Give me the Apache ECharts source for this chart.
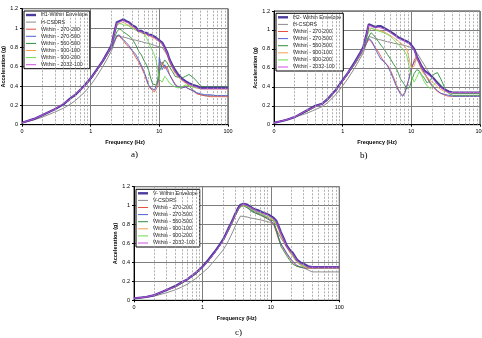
<!DOCTYPE html>
<html><head><meta charset="utf-8">
<script src="https://cdn.jsdelivr.net/npm/echarts@6/dist/echarts.min.js"></script>
<style>html,body{margin:0;padding:0;background:#fff}#c{width:482px;height:338px}</style>
</head><body><div id="c"></div>
<script>
// Frequencies (Hz) shared by all curves
const freq = [0.1, 0.15, 0.2, 0.3, 0.4, 0.5, 0.6, 0.8, 1, 1.2,
  1.5, 1.8, 2, 2.2, 2.4, 2.6, 2.8, 3, 3.3, 3.6,
  4, 4.5, 5, 5.5, 6, 6.5, 7, 7.5, 8, 8.5,
  9, 9.5, 10, 11, 12, 13, 14, 15.5, 17, 19,
  21, 24, 27, 31, 35, 40, 46, 55, 70, 100];
const minorFreqs = [0.2,0.3,0.4,0.5,0.6,0.7,0.8,0.9,2,3,4,5,6,7,8,9,20,30,40,50,60,70,80,90];

// ---- Panel a) H1 ----
const aEnv = [0.02,0.06,0.10,0.16,0.21,0.27,0.31,0.40,0.48,0.56, 0.66,0.76,0.82,0.95,1.06,1.07,1.08,1.09,1.07,1.06, 1.03,1.01,0.97,0.97,0.95,0.95,0.93,0.93,0.91,0.91, 0.895,0.885,0.87,0.85,0.80,0.75,0.68,0.61,0.56,0.51, 0.48,0.45,0.43,0.41,0.40,0.38,0.38,0.38,0.38,0.38];
const aCsd = [0.02,0.05,0.08,0.13,0.17,0.21,0.25,0.33,0.41,0.49, 0.60,0.70,0.76,0.84,0.92,0.92,0.91,0.905,0.90,0.89, 0.88,0.875,0.865,0.86,0.85,0.845,0.84,0.835,0.83,0.82, 0.815,0.81,0.805,0.80,0.76,0.72,0.68,0.63,0.58,0.53, 0.49,0.44,0.40,0.36,0.33,0.31,0.30,0.30,0.30,0.30];
const aR = [0.02,0.06,0.10,0.16,0.21,0.26,0.31,0.39,0.47,0.55, 0.65,0.74,0.79,0.86,0.91,0.92,0.89,0.87,0.83,0.80, 0.77,0.70,0.65,0.59,0.53,0.46,0.40,0.37,0.36,0.34, 0.33,0.40,0.60,0.65,0.58,0.60,0.52,0.47,0.42,0.39, 0.38,0.39,0.37,0.35,0.32,0.31,0.30,0.29,0.29,0.29];
const aB = [0.02,0.06,0.10,0.16,0.21,0.26,0.31,0.39,0.47,0.55, 0.65,0.74,0.79,0.86,0.92,0.93,0.90,0.88,0.85,0.82, 0.77,0.73,0.67,0.61,0.55,0.48,0.41,0.38,0.37,0.36, 0.37,0.44,0.70,0.57,0.62,0.56,0.52,0.46,0.41,0.39, 0.38,0.39,0.37,0.35,0.33,0.32,0.31,0.31,0.30,0.30];
const aDg = [0.02,0.06,0.10,0.16,0.21,0.26,0.31,0.39,0.47,0.55, 0.65,0.74,0.80,0.89,0.96,0.99,0.98,0.96,0.94,0.92, 0.89,0.83,0.76,0.72,0.66,0.62,0.56,0.48,0.42,0.40, 0.41,0.46,0.55,0.62,0.67,0.64,0.60,0.55,0.50,0.49, 0.48,0.50,0.52,0.49,0.45,0.40,0.39,0.39,0.39,0.39];
const aO = [0.02,0.06,0.10,0.16,0.21,0.26,0.31,0.39,0.47,0.55, 0.65,0.75,0.81,0.93,1.03,1.05,1.05,1.06,1.04,1.03, 1.01,0.98,0.96,0.95,0.94,0.93,0.92,0.91,0.90,0.89, 0.88,0.87,0.85,0.83,0.78,0.72,0.65,0.58,0.53,0.49, 0.46,0.43,0.41,0.39,0.38,0.37,0.37,0.37,0.37,0.37];
const aLg = [0.02,0.06,0.10,0.16,0.21,0.26,0.31,0.39,0.47,0.55, 0.65,0.75,0.81,0.92,1.02,1.05,1.04,1.03,1.03,1.02, 1.00,0.98,0.97,0.95,0.94,0.90,0.85,0.80,0.76,0.72, 0.66,0.56,0.47,0.44,0.50,0.47,0.43,0.41,0.39,0.38, 0.39,0.41,0.40,0.39,0.38,0.38,0.38,0.38,0.38,0.38];
const aM = [0.02,0.06,0.10,0.16,0.22,0.26,0.32,0.39,0.48,0.55, 0.66,0.75,0.81,0.94,1.05,1.06,1.07,1.08,1.06,1.05, 1.02,1.00,0.97,0.96,0.95,0.94,0.93,0.92,0.91,0.90, 0.89,0.88,0.86,0.84,0.79,0.74,0.67,0.60,0.55,0.50, 0.47,0.44,0.42,0.40,0.39,0.37,0.37,0.37,0.37,0.37];

// ---- Panel b) H2 ----
const bEnv = [0.02,0.05,0.08,0.15,0.20,0.22,0.27,0.37,0.47,0.55, 0.66,0.76,0.82,0.94,1.06,1.05,1.04,1.03,1.04,1.04, 1.02,1.00,0.98,0.96,0.94,0.92,0.91,0.90,0.89,0.88, 0.87,0.86,0.84,0.80,0.72,0.67,0.62,0.57,0.55,0.52, 0.49,0.44,0.40,0.37,0.35,0.34,0.34,0.34,0.34,0.34];
const bCsd = [0.02,0.05,0.08,0.12,0.16,0.19,0.23,0.32,0.41,0.49, 0.60,0.70,0.76,0.85,0.93,0.925,0.915,0.91,0.90,0.895, 0.885,0.875,0.87,0.86,0.855,0.85,0.845,0.84,0.835,0.83, 0.825,0.82,0.815,0.80,0.76,0.72,0.68,0.63,0.58,0.53, 0.49,0.44,0.40,0.37,0.35,0.34,0.33,0.33,0.33,0.33];
const bR = [0.02,0.05,0.08,0.14,0.19,0.22,0.26,0.36,0.46,0.54, 0.64,0.73,0.79,0.85,0.90,0.88,0.84,0.81,0.77,0.72, 0.66,0.63,0.57,0.50,0.43,0.37,0.33,0.31,0.34,0.40, 0.46,0.53,0.58,0.68,0.73,0.66,0.59,0.54,0.49,0.43, 0.39,0.35,0.33,0.31,0.30,0.30,0.30,0.30,0.30,0.30];
const bB = [0.02,0.05,0.08,0.14,0.19,0.22,0.26,0.36,0.46,0.54, 0.64,0.73,0.79,0.86,0.91,0.89,0.85,0.80,0.74,0.69, 0.67,0.62,0.55,0.48,0.41,0.36,0.32,0.30,0.33,0.39, 0.45,0.52,0.60,0.66,0.70,0.65,0.60,0.55,0.50,0.44, 0.40,0.36,0.33,0.32,0.31,0.30,0.30,0.30,0.30,0.30];
const bDg = [0.02,0.05,0.08,0.14,0.19,0.22,0.26,0.36,0.46,0.54, 0.64,0.74,0.80,0.88,0.93,0.97,0.95,0.92,0.88,0.84, 0.80,0.74,0.69,0.64,0.60,0.54,0.48,0.45,0.42,0.38, 0.36,0.40,0.46,0.54,0.58,0.57,0.53,0.49,0.44,0.47, 0.53,0.55,0.48,0.38,0.33,0.31,0.31,0.31,0.31,0.31];
const bO = [0.02,0.05,0.08,0.14,0.19,0.22,0.26,0.36,0.46,0.54, 0.64,0.74,0.80,0.91,1.01,1.02,1.01,1.00,1.00,0.99, 0.98,0.96,0.94,0.92,0.90,0.88,0.86,0.85,0.83,0.80, 0.74,0.66,0.60,0.62,0.70,0.64,0.58,0.53,0.50,0.46, 0.44,0.40,0.37,0.35,0.34,0.33,0.33,0.33,0.33,0.33];
const bLg = [0.02,0.05,0.08,0.14,0.19,0.22,0.26,0.36,0.46,0.54, 0.64,0.74,0.80,0.90,0.98,1.02,1.01,1.00,0.99,0.98, 0.97,0.95,0.93,0.90,0.87,0.84,0.82,0.80,0.78,0.74, 0.66,0.58,0.52,0.45,0.50,0.56,0.52,0.45,0.41,0.38, 0.42,0.46,0.42,0.36,0.34,0.33,0.33,0.33,0.33,0.33];
const bM = [0.02,0.05,0.08,0.15,0.19,0.22,0.27,0.36,0.46,0.55, 0.65,0.75,0.81,0.93,1.05,1.04,1.03,1.02,1.03,1.02, 1.01,0.99,0.97,0.95,0.93,0.91,0.90,0.89,0.88,0.87, 0.86,0.85,0.83,0.79,0.71,0.66,0.61,0.56,0.54,0.51, 0.48,0.43,0.39,0.36,0.34,0.34,0.34,0.34,0.34,0.34];

// ---- Panel c) V ----
const cEnv = [0.02,0.035,0.055,0.11,0.15,0.19,0.22,0.29,0.355,0.42, 0.51,0.59,0.64,0.70,0.76,0.81,0.86,0.91,0.97,1.01, 1.02,1.01,0.99,0.97,0.96,0.95,0.94,0.93,0.92,0.915, 0.91,0.90,0.89,0.87,0.84,0.78,0.72,0.65,0.58,0.53, 0.50,0.43,0.40,0.38,0.36,0.35,0.35,0.35,0.35,0.35];
const cCsd = [0.02,0.03,0.045,0.08,0.11,0.14,0.17,0.23,0.29,0.34, 0.42,0.49,0.53,0.58,0.63,0.68,0.73,0.78,0.84,0.89, 0.885,0.88,0.87,0.865,0.86,0.855,0.85,0.845,0.84,0.835, 0.83,0.825,0.815,0.80,0.75,0.70,0.66,0.61,0.56,0.51, 0.47,0.42,0.38,0.34,0.32,0.30,0.30,0.30,0.30,0.30];
const cR = [0.02,0.035,0.055,0.11,0.14,0.18,0.22,0.28,0.35,0.41, 0.50,0.58,0.63,0.69,0.74,0.79,0.84,0.89,0.95,0.99, 1.00,0.98,0.96,0.94,0.92,0.91,0.90,0.89,0.88,0.87, 0.86,0.85,0.83,0.80,0.72,0.64,0.59,0.54,0.49,0.44, 0.40,0.36,0.35,0.34,0.34,0.34,0.34,0.34,0.34,0.34];
const cB = [0.02,0.035,0.055,0.11,0.14,0.18,0.22,0.28,0.35,0.41, 0.50,0.58,0.63,0.69,0.74,0.79,0.84,0.89,0.95,0.99, 1.00,0.98,0.96,0.94,0.93,0.92,0.91,0.90,0.89,0.88, 0.87,0.86,0.84,0.81,0.74,0.66,0.60,0.55,0.50,0.45, 0.41,0.37,0.35,0.34,0.34,0.34,0.34,0.34,0.34,0.34];
const cDg = [0.02,0.035,0.055,0.11,0.14,0.18,0.22,0.28,0.35,0.41, 0.50,0.58,0.63,0.69,0.74,0.79,0.84,0.89,0.95,0.99, 1.00,0.98,0.95,0.93,0.92,0.91,0.90,0.89,0.88,0.87, 0.86,0.85,0.84,0.84,0.74,0.66,0.57,0.52,0.47,0.42, 0.38,0.36,0.35,0.35,0.35,0.35,0.35,0.35,0.35,0.35];
const cO = [0.02,0.035,0.055,0.11,0.14,0.18,0.22,0.28,0.35,0.41, 0.50,0.58,0.63,0.69,0.74,0.79,0.84,0.89,0.95,0.99, 1.00,0.99,0.97,0.95,0.94,0.93,0.92,0.91,0.90,0.89, 0.88,0.87,0.86,0.84,0.80,0.74,0.68,0.62,0.56,0.50, 0.46,0.40,0.37,0.35,0.34,0.34,0.34,0.34,0.34,0.34];
const cLg = [0.02,0.035,0.055,0.11,0.14,0.18,0.22,0.28,0.35,0.41, 0.50,0.58,0.63,0.69,0.74,0.79,0.84,0.89,0.95,0.99, 1.00,0.99,0.97,0.95,0.94,0.93,0.92,0.91,0.90,0.89, 0.89,0.88,0.87,0.85,0.81,0.76,0.70,0.64,0.58,0.52, 0.47,0.41,0.38,0.36,0.35,0.35,0.35,0.35,0.35,0.35];
const cM = [0.02,0.035,0.055,0.11,0.14,0.19,0.22,0.29,0.35,0.41, 0.50,0.58,0.63,0.69,0.75,0.80,0.85,0.90,0.96,1.00, 1.02,1.00,0.98,0.97,0.95,0.94,0.93,0.92,0.91,0.91, 0.90,0.89,0.88,0.86,0.83,0.77,0.71,0.64,0.57,0.52, 0.49,0.42,0.39,0.37,0.35,0.35,0.35,0.35,0.35,0.35];

const withinNames = ['Within - 270-200','Within - 270-500','Within - 560-500','Within - 900-100','Within - 900-200','Within - 2032-100'];

const FONT = 'Liberation Sans, Arial, sans-serif';
const COL = {env:'#4b3c9c', csd:'#8c8c8c', r:'#e5503f', b:'#4d5fd2', dg:'#2f8c3c', o:'#f2a24c', lg:'#6bdc4f', m:'#cf4fe2'};
const THIN_ICON = 'path://M0,0h10v1h-10z';
const THICK_ICON = 'path://M0,0h10v2.4h-10z';

const panels = [
  {envName:'H1-Within Envelope', csdName:'H-CSDRS', env:aEnv, csd:aCsd, w:[aR,aB,aDg,aO,aLg,aM],
   grid:{left:22, top:8.7, width:206, height:116}, legend:{left:24, top:11}, cap:{text:'a)', left:131, top:150}},
  {envName:'H2- Within Envelope', csdName:'H-CSDRS', env:bEnv, csd:bCsd, w:[bR,bB,bDg,bO,bLg,bM],
   grid:{left:274, top:11, width:206, height:113.7}, legend:{left:276, top:13.3}, cap:{text:'b)', left:360, top:151}},
  {envName:'V- Within Envelope', csdName:'V-CSDRS', env:cEnv, csd:cCsd, w:[cR,cB,cDg,cO,cLg,cM],
   grid:{left:134, top:186.7, width:205.3, height:113.6}, legend:{left:136, top:189.3}, cap:{text:'c)', left:235, top:328}}
];

const pts = vals => freq.map((f, i) => [f, vals[i]]);
const wColors = [COL.r, COL.b, COL.dg, COL.o, COL.lg, COL.m];

const grids = [], xAxes = [], yAxes = [], series = [], legends = [], titles = [];
panels.forEach((p, gi) => {
  grids.push(Object.assign({show:true, borderColor:'#333', borderWidth:1, backgroundColor:'#fff', containLabel:false, outerBoundsMode:'none'}, p.grid));
  xAxes.push({
    type:'log', logBase:10, min:0.1, max:100, gridIndex:gi,
    name:'Frequency (Hz)', nameLocation:'middle', nameGap:15,
    nameTextStyle:{fontFamily:FONT, fontSize:5.5, fontWeight:'bold', color:'#000'},
    axisLine:{show:true, lineStyle:{color:'#000', width:1}},
    axisTick:{show:true, length:2, lineStyle:{color:'#000'}},
    axisLabel:{fontFamily:FONT, fontSize:5.5, color:'#000', margin:4, formatter:v => (v < 1 ? '0' : String(Math.round(v)))},
    splitLine:{show:true, lineStyle:{color:'#7d7d7d', width:1}},
    minorTick:{show:false}, minorSplitLine:{show:false}
  });
  yAxes.push({
    type:'value', min:0, max:1.2, interval:0.2, gridIndex:gi,
    name:'Acceleration (g)', nameLocation:'middle', nameGap:14, nameRotate:90,
    nameTextStyle:{fontFamily:FONT, fontSize:5.5, fontWeight:'bold', color:'#000'},
    axisLine:{show:true, lineStyle:{color:'#000', width:1}},
    axisTick:{show:true, length:2, lineStyle:{color:'#000'}},
    axisLabel:{fontFamily:FONT, fontSize:5.5, color:'#000', margin:4},
    splitLine:{show:true, lineStyle:{color:'#7d7d7d', width:1}}
  });
  const base = {type:'line', xAxisIndex:gi, yAxisIndex:gi, symbol:'none', showSymbol:false, silent:true, animation:false};
  series.push(Object.assign({}, base, {
    name:p.csdName, data:pts(p.csd), color:COL.csd, itemStyle:{color:COL.csd}, lineStyle:{color:COL.csd, width:1},
    markLine:{silent:true, symbol:['none','none'], animation:false, label:{show:false},
      lineStyle:{color:'#9a9a9a', width:0.8, type:[2,1.5]},
      data:minorFreqs.map(f => ({xAxis:f}))}
  }));
  p.w.forEach((vals, k) => {
    if (k === 5) return;
    series.push(Object.assign({}, base, {name:withinNames[k], data:pts(vals), color:wColors[k], itemStyle:{color:wColors[k]}, lineStyle:{color:wColors[k], width:0.9}}));
  });
  series.push(Object.assign({}, base, {name:p.envName, data:pts(p.env), color:COL.env, itemStyle:{color:COL.env}, lineStyle:{color:COL.env, width:2.2}}));
  series.push(Object.assign({}, base, {name:withinNames[5], data:pts(p.w[5]), color:COL.m, itemStyle:{color:COL.m}, lineStyle:{color:COL.m, width:0.8}}));
  const names = [p.envName, p.csdName].concat(withinNames);
  legends.push({
    left:p.legend.left, top:p.legend.top, orient:'vertical', selectedMode:false,
    data:names.map((n, i) => ({name:n, icon:i === 0 ? THICK_ICON : THIN_ICON})),
    itemWidth:10, itemHeight:5, itemGap:2.1, padding:[1.5, 2, 1.5, 2],
    borderColor:'#000', borderWidth:1, backgroundColor:'#fff',
    textStyle:{fontFamily:FONT, fontSize:5.3, color:'#222'}
  });
  titles.push({text:p.cap.text, left:p.cap.left, top:p.cap.top, padding:0,
    textStyle:{fontFamily:'Liberation Serif, Times New Roman, serif', fontSize:9, fontWeight:'normal', color:'#000'}});
});

const chart = echarts.init(document.getElementById('c'), null, {renderer:'canvas', width:482, height:338});
chart.setOption({
  animation:false, backgroundColor:'#fff',
  title:titles, grid:grids, xAxis:xAxes, yAxis:yAxes, legend:legends, series:series
});
</script></body></html>
